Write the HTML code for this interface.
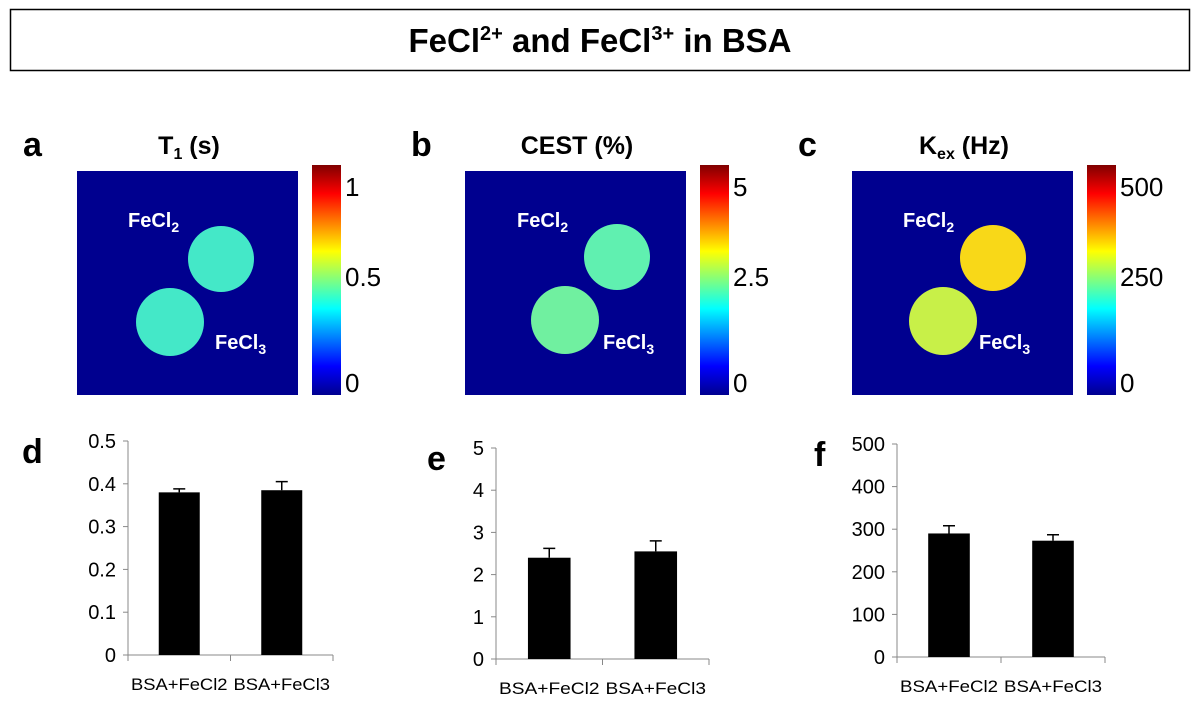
<!DOCTYPE html>
<html><head><meta charset="utf-8">
<style>
body{margin:0;background:#fff;width:1201px;height:715px;overflow:hidden;font-family:"Liberation Sans",sans-serif}
svg{position:absolute;left:0;top:0}
</style></head>
<body>
<svg width="1201" height="715" viewBox="0 0 1201 715" xmlns="http://www.w3.org/2000/svg">
<defs>
<linearGradient id="jet" x1="0" y1="1" x2="0" y2="0">
<stop offset="0" stop-color="#00008f"/><stop offset="0.125" stop-color="#0000ff"/>
<stop offset="0.375" stop-color="#00ffff"/><stop offset="0.625" stop-color="#ffff00"/>
<stop offset="0.875" stop-color="#ff0000"/><stop offset="1" stop-color="#800000"/>
</linearGradient>
</defs>
<g>
<rect x="10.5" y="9.5" width="1179" height="61" fill="#fff" stroke="#000" stroke-width="1.5"/>
<text x="600" y="52" text-anchor="middle" font-size="33" font-weight="bold">FeCl<tspan font-size="20" dy="-12">2+</tspan><tspan dy="12"> and FeCl</tspan><tspan font-size="20" dy="-12">3+</tspan><tspan dy="12"> in BSA</tspan></text>
</g>
<g id="maps"></g>
<g id="bars"></g>
</svg>
<script>
const NS="http://www.w3.org/2000/svg";
function mk(tag,attrs,parent,txt){const e=document.createElementNS(NS,tag);for(const k in attrs)e.setAttribute(k,attrs[k]);if(txt!==undefined)e.textContent=txt;parent.appendChild(e);return e;}

// ---- heatmap panels ----
const mapLetters=["a","b","c"];
const mapX=[77,465,852];
const cbTicks=[["1","0.5","0"],["5","2.5","0"],["500","250","0"]];
const circColors=[["#44e8c8","#44e8c8"],["#60f0b0","#70f0a0"],["#f8d818","#c8f048"]];
const c2Off=[[144,88],[152,86],[141,87]];
const c3Off=[[93,151],[100,149],[91,150]];
const lblOff=[[51,138],[52,138],[51,127]];
const maps=document.getElementById("maps");
for(let i=0;i<3;i++){
  const x=mapX[i];
  const g=mk("g",{},maps);
  
  
  const l=mk("text",{x:x-54,y:156,"font-size":34,"font-weight":"bold"},g,mapLetters[i]);
  
  
  const t=mk("text",{x:x+112,y:154,"text-anchor":"middle","font-size":25,"font-weight":"bold"},g);
  
  
  if(i===0){t.innerHTML='T<tspan font-size="16" dy="5">1</tspan><tspan dy="-5"> (s)</tspan>';}
  else if(i===1){t.textContent='CEST (%)';}
  else{t.innerHTML='K<tspan font-size="16" dy="5">ex</tspan><tspan dy="-5"> (Hz)</tspan>';}
  const r=mk("rect",{x:x,y:171,width:221,height:224,fill:"#00008f"},g);
  
  
  const c1=mk("circle",{cx:x+c2Off[i][0],cy:171+c2Off[i][1],r:33,fill:circColors[i][0]},g);
  
  
  const c2=mk("circle",{cx:x+c3Off[i][0],cy:171+c3Off[i][1],r:34,fill:circColors[i][1]},g);
  
  
  const a=mk("text",{x:x+lblOff[i][0],y:227,"font-size":20,"font-weight":"bold",fill:"#fff"},g);
  a.innerHTML='FeCl<tspan font-size="14" dy="5">2</tspan>';
  
  
  const b=mk("text",{x:x+lblOff[i][1],y:349,"font-size":20,"font-weight":"bold",fill:"#fff"},g);
  b.innerHTML='FeCl<tspan font-size="14" dy="5">3</tspan>';
  
  
  const cx=x+235;
  const cb=mk("rect",{x:cx,y:165,width:29,height:230,fill:"url(#jet)"},g);
  
  
  const ty=[186,276,382];
  for(let k=0;k<3;k++){
    const tt=mk("text",{x:cx+33,y:ty[k]+10,"font-size":26},g,cbTicks[i][k]);
    
    
  }
}

// ---- bar charts ----
const categories=["BSA+FeCl2","BSA+FeCl3"];
const t1Values=[0.38,0.385];
const t1Errors=[0.008,0.02];
const cestValues=[2.4,2.55];
const cestErrors=[0.22,0.25];
const kexValues=[290,273];
const kexErrors=[18,14];
const t1Ticks=["0","0.1","0.2","0.3","0.4","0.5"];
const cestTicks=["0","1","2","3","4","5"];
const kexTicks=["0","100","200","300","400","500"];

const charts=[
 {letter:"d",ax:128,top:441,bot:655,right:333,max:0.5,vals:t1Values,errs:t1Errors,ticks:t1Ticks,lx:22},
 {letter:"e",ax:496,top:448,bot:659,right:709,max:5,vals:cestValues,errs:cestErrors,ticks:cestTicks,lx:427},
 {letter:"f",ax:897,top:444,bot:657,right:1105,max:500,vals:kexValues,errs:kexErrors,ticks:kexTicks,lx:814}
];
const bars=document.getElementById("bars");
charts.forEach(c=>{
  const g=mk("g",{},bars);
  
  
  const y=v=>c.bot-(v/c.max)*(c.bot-c.top);
  const slot=(c.right-c.ax)/categories.length;
  const L=mk("text",{x:c.lx,y:c.top+22,"font-size":34,"font-weight":"bold"},g,c.letter);
  
  
  const ya=mk("line",{x1:c.ax,y1:c.top,x2:c.ax,y2:c.bot,stroke:"#888","stroke-width":1},g);
  
  
  const xa=mk("line",{x1:c.ax,y1:c.bot,x2:c.right,y2:c.bot,stroke:"#888","stroke-width":1},g);
  
  
  c.ticks.forEach((tk,k)=>{
    const v=c.max*k/(c.ticks.length-1);
    const yy=y(v);
    mk("line",{x1:c.ax-5,y1:yy,x2:c.ax,y2:yy,stroke:"#888"},g);
    const tt=mk("text",{x:c.ax-12,y:yy+7,"text-anchor":"end","font-size":20},g,tk);
    
    
  });
  for(let k=0;k<=categories.length;k++){
    mk("line",{x1:c.ax+k*slot,y1:c.bot,x2:c.ax+k*slot,y2:c.bot+6,stroke:"#888"},g);
  }
  categories.forEach((cat,k)=>{
    const cx=c.ax+slot*(k+0.5);
    const bw=slot*0.4;
    const b=mk("rect",{x:cx-bw/2,y:y(c.vals[k]),width:bw,height:c.bot-y(c.vals[k]),fill:"#000"},g);
    
    
    const ye=y(c.vals[k]+c.errs[k]);
    const e=mk("path",{d:`M${cx} ${y(c.vals[k])}V${ye}M${cx-6} ${ye}H${cx+6}`,stroke:"#000","stroke-width":1.5,fill:"none"},g);
    
    
    const xl=mk("text",{x:cx,y:c.bot+35,"text-anchor":"middle","font-size":17,textLength:slot-6,lengthAdjust:"spacingAndGlyphs"},g,cat);
    
    
  });
});
</script>
</body></html>
